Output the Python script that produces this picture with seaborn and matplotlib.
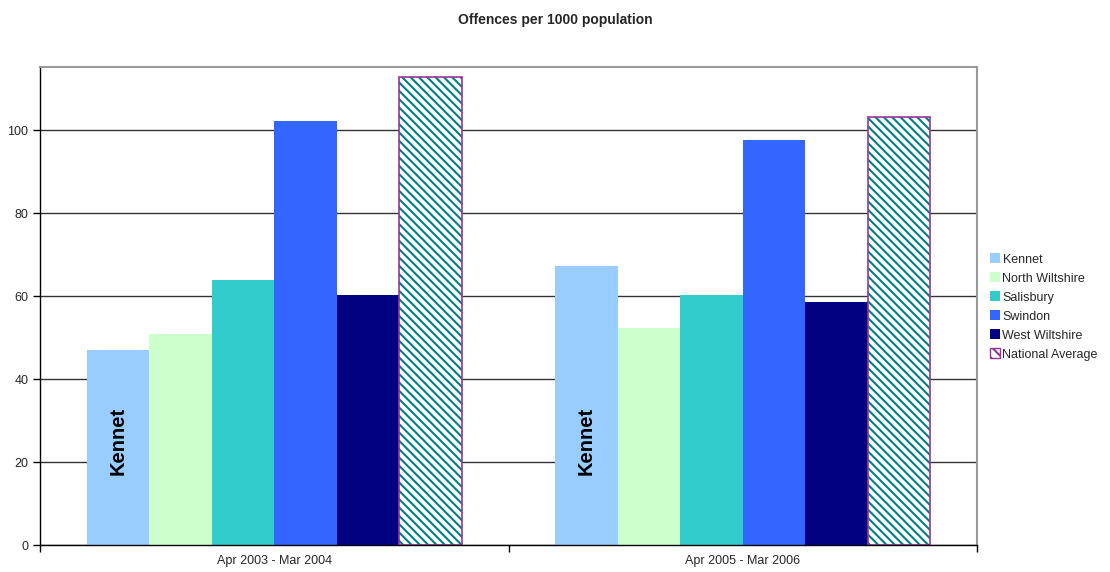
import matplotlib
matplotlib.use("Agg")
import matplotlib.pyplot as plt
import seaborn as sns
import pandas as pd
from matplotlib.patches import Patch

# Data
periods = ["Apr 2003 - Mar 2004", "Apr 2005 - Mar 2006"]
areas = ["Kennet", "North Wiltshire", "Salisbury", "Swindon", "West Wiltshire", "National Average"]
values_2003 = [47.0, 50.8, 63.9, 102.2, 60.2, 112.8]
values_2005 = [67.2, 52.3, 60.2, 97.6, 58.6, 103.1]
colors = ["#99CCFF", "#CCFFCC", "#33CCCC", "#3366FF", "#000080", "#FFFFFF"]

rows = []
for p, vals in zip(periods, [values_2003, values_2005]):
    for a, v in zip(areas, vals):
        rows.append({"period": p, "area": a, "value": v})
df = pd.DataFrame(rows)

sns.set_style("white")
plt.rcParams["font.family"] = ["Liberation Sans", "DejaVu Sans"]
plt.rcParams["hatch.linewidth"] = 1.5
plt.rcParams["hatch.color"] = "#008080"

fig = plt.figure(figsize=(11.1, 5.72), dpi=100)
ax = fig.add_axes([40 / 1110, 1 - 545 / 572, 937 / 1110, 478 / 572])

sns.barplot(data=df, x="period", y="value", hue="area", hue_order=areas,
            palette=colors, width=0.8, saturation=1, ax=ax, legend=False,
            linewidth=0, edgecolor="none")

# hatched national average bars
for bar in ax.containers[5]:
    bar.set_hatch("\\" * 4)
    bar.set_edgecolor("#993399")
    bar.set_linewidth(1.2)
    bar._hatch_color = matplotlib.colors.to_rgba("#008080")

# label inside the Kennet bars
for bar in ax.containers[0]:
    ax.text(bar.get_x() + bar.get_width() / 2, 25, "Kennet", rotation=90,
            ha="center", va="center", fontsize=14.5, fontweight="bold",
            fontstretch="condensed", color="black")

ax.set_ylim(0, 115.2)
ax.set_xlim(-0.5, 1.5)
ax.set_yticks([0, 20, 40, 60, 80, 100])
ax.yaxis.grid(True, color="#333333", linewidth=1)
ax.set_axisbelow(True)
ax.set_xlabel("")
ax.set_ylabel("")
ax.tick_params(axis="y", left=True, length=5, width=1, color="black", labelsize=9)
ax.tick_params(axis="x", which="major", bottom=False, labelsize=9)
ax.set_xticks([-0.5, 0.5, 1.5], minor=True)
ax.tick_params(axis="x", which="minor", bottom=True, length=5, width=1, color="black")

for side in ["left", "bottom"]:
    ax.spines[side].set_color("black")
    ax.spines[side].set_linewidth(1)
for side in ["top", "right"]:
    ax.spines[side].set_color("#999999")
    ax.spines[side].set_linewidth(1.5)

fig.text(555 / 1110, 1 - 20 / 572, "Offences per 1000 population", ha="center",
         va="center", fontsize=10, fontweight="bold")

handles = []
for a, c in zip(areas, colors):
    if a == "National Average":
        handles.append(Patch(facecolor="white", edgecolor="#993399", hatch="\\\\\\", label=a))
    else:
        handles.append(Patch(facecolor=c, edgecolor="none", label=a))
fig.legend(handles=handles, loc="center left", bbox_to_anchor=(985 / 1110, 1 - 307 / 572),
           frameon=False, fontsize=9, handlelength=0.8, handleheight=0.8,
           handletextpad=0.2, labelspacing=0.55, borderaxespad=0)

fig.savefig("out.png", dpi=100)
